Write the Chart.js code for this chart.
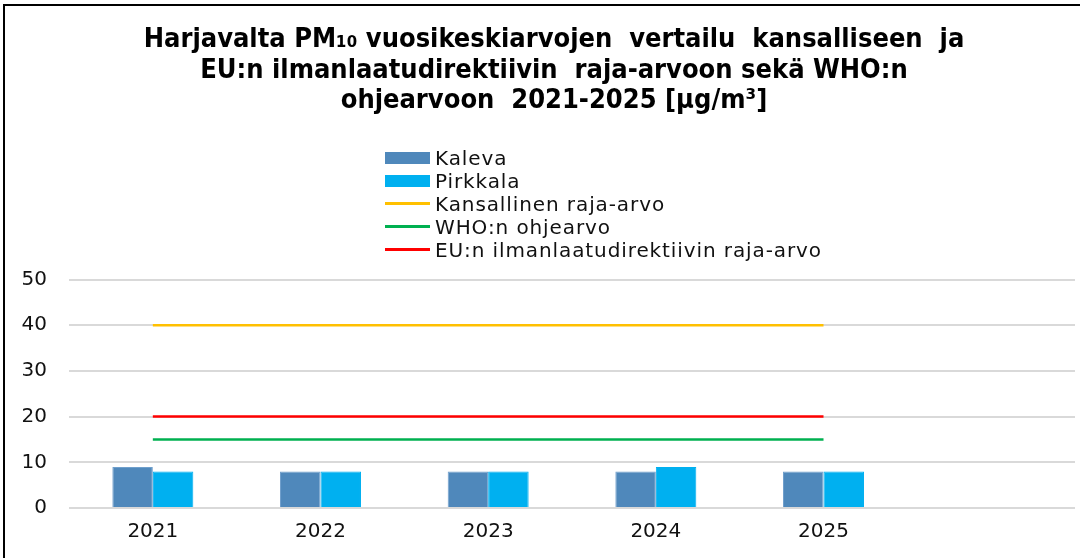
<!DOCTYPE html>
<html>
<head>
<meta charset="utf-8">
<script src="https://cdn.jsdelivr.net/npm/chart.js@4/dist/chart.umd.min.js"></script>
<style>
    html, body { margin: 0; padding: 0; background: #fff; }
    #wrap { position: relative; width: 1090px; height: 558px; }
    #legend { position: absolute; left: 385px; top: 146px; font-family: "DejaVu Sans", sans-serif; font-size: 20px; letter-spacing: 0.9px; color: #111; }
    #legend .row { height: 23px; display: flex; align-items: center; }
    #legend .mark { width: 45px; margin-right: 5px; display: flex; align-items: center; }
</style>
</head>
<body>
<div id="wrap">
    <canvas id="pm-chart" width="1090" height="558"></canvas>
    <div id="legend"></div>
</div>
<script>
var years = ["2021", "2022", "2023", "2024", "2025", ""];
var kaleva = [9, 8, 8, 8, 8];
var pirkkala = [8, 8, 8, 9, 8];
var kansallinen = [40, 40, 40, 40, 40];
var who = [15, 15, 15, 15, 15];
var eu = [20, 20, 20, 20, 20];
var yTicks = [0, 10, 20, 30, 40, 50];

var titleLines = [
    "Harjavalta PM\u2081\u2080 vuosikeskiarvojen  vertailu  kansalliseen  ja",
    "EU:n ilmanlaatudirektiivin  raja-arvoon sekä WHO:n",
    "ohjearvoon  2021-2025 [µg/m\u00b3]"
];

var framePlugin = {
    id: "frame",
    beforeDraw: function (chart) {
        var ctx = chart.ctx;
        ctx.save();
        ctx.fillStyle = "#fff";
        ctx.fillRect(0, 0, chart.width, chart.height);
        ctx.strokeStyle = "#000";
        ctx.lineWidth = 2;
        ctx.beginPath();
        ctx.moveTo(4, chart.height);
        ctx.lineTo(4, 5);
        ctx.lineTo(1080, 5);
        ctx.stroke();
        ctx.restore();
    }
};

var chart = new Chart(document.getElementById("pm-chart"), {
    type: "bar",
    data: {
        labels: years,
        datasets: [
            { label: "Kaleva", data: kaleva, backgroundColor: "#4f88bb", borderColor: "#6f9fcc", borderWidth: 1, order: 4 },
            { label: "Pirkkala", data: pirkkala, backgroundColor: "#00b0f0", borderColor: "#00b0f0", borderWidth: 1, order: 5 },
            { type: "line", label: "Kansallinen raja-arvo", data: kansallinen, borderColor: "#ffc000", backgroundColor: "#ffc000", borderWidth: 2.5, pointRadius: 0, order: 1 },
            { type: "line", label: "WHO:n ohjearvo", data: who, borderColor: "#00b050", backgroundColor: "#00b050", borderWidth: 2.5, pointRadius: 0, order: 2 },
            { type: "line", label: "EU:n ilmanlaatudirektiivin raja-arvo", data: eu, borderColor: "#ff0000", backgroundColor: "#ff0000", borderWidth: 2.5, pointRadius: 0, order: 3 }
        ]
    },
    options: {
        responsive: false,
        animation: false,
        layout: { padding: { top: 6, right: 0, bottom: 2, left: 18 } },
        datasets: { bar: { categoryPercentage: 0.483, barPercentage: 1 } },
        plugins: {
            legend: { display: false },
            tooltip: { enabled: false },
            title: {
                display: true,
                text: titleLines,
                color: "#000",
                font: { family: "'DejaVu Sans Condensed', 'DejaVu Sans', sans-serif", size: 27, weight: "bold", lineHeight: 1.13 },
                padding: { top: 19, bottom: 163 }
            }
        },
        scales: {
            x: {
                grid: { display: false, drawTicks: false },
                border: { display: false },
                ticks: { color: "#111", font: { family: "'DejaVu Sans', sans-serif", size: 20 }, padding: 12 }
            },
            y: {
                min: 0,
                max: 50,
                afterBuildTicks: function (scale) {
                    scale.ticks = yTicks.map(function (v) { return { value: v }; });
                },
                afterFit: function (scale) { scale.width = 51; },
                grid: { color: "#d9d9d9", lineWidth: 2, drawTicks: false },
                border: { display: false },
                ticks: { color: "#111", font: { family: "'DejaVu Sans', sans-serif", size: 20 }, padding: 22 }
            },
            // empty right-hand spacer so the plot stops short of the edge while the title stays centred on the page
            yRight: {
                position: "right",
                min: 0,
                max: 50,
                afterFit: function (scale) { scale.width = 15; },
                grid: { display: false, drawTicks: false },
                border: { display: false },
                ticks: { display: false }
            }
        }
    },
    plugins: [framePlugin]
});

// legend as a vertical list, built from the datasets
var $legend = document.getElementById("legend");
chart.data.datasets.forEach(function (ds) {
    var row = document.createElement("div");
    row.className = "row";
    var mark = document.createElement("div");
    mark.className = "mark";
    var sw = document.createElement("div");
    sw.style.width = "45px";
    sw.style.background = ds.backgroundColor;
    sw.style.height = ds.type === "line" ? "3px" : "12px";
    mark.appendChild(sw);
    var txt = document.createElement("span");
    txt.textContent = ds.label;
    row.appendChild(mark);
    row.appendChild(txt);
    $legend.appendChild(row);
});
</script>
</body>
</html>
